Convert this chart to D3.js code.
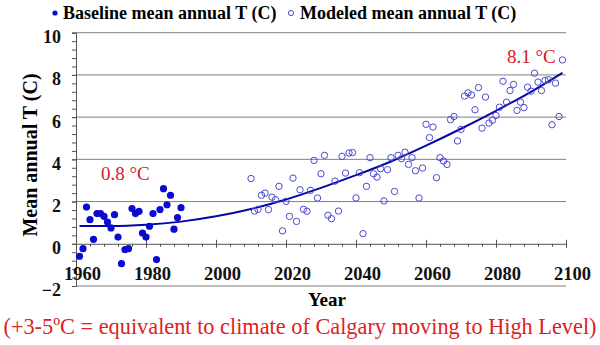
<!DOCTYPE html>
<html>
<head>
<meta charset="utf-8">
<script src="https://cdn.jsdelivr.net/npm/d3@7"></script>
<style>
  body { margin: 0; background: #fff; }
  text { font-family: "Liberation Serif", "Times New Roman", Times, "DejaVu Serif", serif; }
</style>
</head>
<body>
<script>
// baseline observations, 1961-1990
var baseYears = d3.range(1961, 1991);
var baseTemps = [-0.59, -0.23, 1.74, 1.14, 0.21, 1.43, 1.43, 1.30, 1.03, 0.75,
                 1.38, 0.32, -0.94, -0.27, -0.23, 1.67, 1.43, 1.54, 0.51, 0.32,
                 0.83, 1.43, -0.75, 1.62, 2.61, 1.85, 2.30, 0.69, 1.24, 1.71];

// modeled values, 2010-2099
var modelYears = d3.range(2010, 2100);
var modelTemps = [3.09, 1.55, 1.63, 2.30, 2.40, 1.62, 2.21, 2.09, 2.72, 0.61,
                  2.01, 1.30, 3.11, 1.06, 2.56, 1.63, 1.54, 2.53, 3.95, 2.17,
                  3.32, 4.19, 1.35, 1.19, 2.97, 1.55, 4.14, 3.35, 4.30, 4.32,
                  2.17, 3.37, 0.48, 2.72, 4.08, 3.32, 3.16, 3.56, 2.03, 3.51,
                  4.08, 2.48, 4.19, 4.03, 4.34, 3.76, 4.08, 3.46, 2.17, 3.59,
                  5.66, 5.03, 5.53, 3.13, 4.08, 3.92, 3.76, 5.88, 6.03, 4.87,
                  5.42, 7.00, 7.15, 7.05, 6.35, 7.40, 5.48, 6.95, 5.72, 5.85,
                  6.08, 6.47, 7.70, 6.71, 7.26, 7.55, 6.32, 6.71, 6.45, 7.42,
                  7.23, 8.08, 7.66, 7.26, 7.74, 7.77, 5.64, 7.61, 6.03, 8.71];

// trend line
var trendYears = [1961, 1970, 1980, 1990, 2000, 2010, 2020, 2030, 2040, 2050, 2060, 2070, 2080, 2090, 2099];
var trendTemps = [0.84, 0.84, 0.90, 1.05, 1.30, 1.65, 2.10, 2.65, 3.25, 3.90, 4.65, 5.45, 6.30, 7.20, 8.10];

var xTicks = [1960, 1980, 2000, 2020, 2040, 2060, 2080, 2100];
var yTicks = [-2, 0, 2, 4, 6, 8, 10];

var width = 600, height = 345;
var serif = "'Liberation Serif', 'Times New Roman', 'DejaVu Serif', serif";

var x = d3.scaleLinear().domain([1960, 2100]).range([76, 566]);
var y = d3.scaleLinear().domain([-2, 10]).range([286, 32.7]);

var svg = d3.select("body").append("svg")
    .attr("width", width)
    .attr("height", height)
    .attr("font-family", serif);

// gridlines
svg.append("g")
  .selectAll("line")
  .data([2, 4, 6, 8, 10])
  .enter().append("line")
    .attr("x1", x(1960)).attr("x2", x(2100))
    .attr("y1", function(d) { return y(d); })
    .attr("y2", function(d) { return y(d); })
    .attr("stroke", "#808080")
    .attr("stroke-width", 1);

// bottom border of plot area
svg.append("line")
    .attr("x1", x(1960)).attr("x2", x(2100))
    .attr("y1", y(-2)).attr("y2", y(-2))
    .attr("stroke", "#808080");

// y axis with minor ticks
var yMinor = d3.range(-2, 10.01, 0.4).map(function(d) { return Math.round(d * 10) / 10; });
svg.append("g")
    .attr("transform", "translate(" + x(1960) + ",0)")
    .call(d3.axisLeft(y).tickValues(yMinor).tickSize(4).tickFormat(""))
    .call(function(g) { g.select(".domain").remove(); })
    .selectAll("line").attr("stroke", "#555");

var yAxis = svg.append("g")
    .attr("transform", "translate(" + x(1960) + ",0)")
    .call(d3.axisLeft(y).tickValues(yTicks).tickSize(4).tickPadding(11));
yAxis.attr("font-family", serif);
yAxis.select(".domain").attr("stroke", "#555");
yAxis.selectAll("line").attr("stroke", "#555");
yAxis.selectAll("text")
    .attr("dy", "0.55em")
    .style("font-family", serif)
    .style("font-size", "18px")
    .style("font-weight", "bold")
    .attr("fill", "#111");

// x axis sits at y = 0
var xMinor = d3.range(1960, 2101, 4);
svg.append("g")
    .attr("transform", "translate(0," + y(0) + ")")
    .call(d3.axisBottom(x).tickValues(xMinor).tickSize(3).tickFormat(""))
    .call(function(g) { g.select(".domain").remove(); })
    .selectAll("line").attr("stroke", "#555");

var xAxis = svg.append("g")
    .attr("transform", "translate(0," + y(0) + ")")
    .call(d3.axisBottom(x).tickValues(xTicks).tickSize(4).tickPadding(19).tickFormat(d3.format("d")));
xAxis.attr("font-family", serif);
xAxis.select(".domain").attr("stroke", "#555");
xAxis.selectAll(".tick line").attr("y1", -4).attr("stroke", "#555");
xAxis.selectAll("text")
    .attr("dx", "6")
    .style("font-family", serif)
    .style("font-size", "18.5px")
    .style("font-weight", "bold")
    .attr("fill", "#111");

// trend line
var line = d3.line()
    .x(function(d, i) { return x(trendYears[i]); })
    .y(function(d) { return y(d); })
    .curve(d3.curveMonotoneX);
svg.append("path")
    .datum(trendTemps)
    .attr("d", line)
    .attr("fill", "none")
    .attr("stroke", "#0606a8")
    .attr("stroke-width", 2);

// modeled points (open)
svg.append("g")
  .selectAll("circle")
  .data(modelTemps)
  .enter().append("circle")
    .attr("cx", function(d, i) { return x(modelYears[i]); })
    .attr("cy", function(d) { return y(d); })
    .attr("r", 3.2)
    .attr("fill", "none")
    .attr("stroke", "#4a4ad0")
    .attr("stroke-width", 1);

// baseline points (filled)
svg.append("g")
  .selectAll("circle")
  .data(baseTemps)
  .enter().append("circle")
    .attr("cx", function(d, i) { return x(baseYears[i]); })
    .attr("cy", function(d) { return y(d); })
    .attr("r", 3.6)
    .attr("fill", "#0a0ad0");

function label(txt, xx, yy, size, bold, color, anchor) {
  return svg.append("text")
      .attr("x", xx).attr("y", yy)
      .style("font-family", serif)
      .style("font-size", size + "px")
      .style("font-weight", bold ? "bold" : "normal")
      .style("text-anchor", anchor || "start")
      .attr("fill", color || "#000")
      .text(txt);
}

// annotations
label("0.8 °C", 101, 180, 19, false, "#d42020");
label("8.1 °C", 507, 63, 19, false, "#d42020");

// legend
svg.append("circle").attr("cx", 55).attr("cy", 13).attr("r", 2.6).attr("fill", "#0a0ad0");
label("Baseline mean annual T (C)", 63, 19, 18, true);
svg.append("circle").attr("cx", 291).attr("cy", 13).attr("r", 2.6)
    .attr("fill", "none").attr("stroke", "#4a4ad0");
label("Modeled mean annual T (C)", 300, 19, 18, true);

// axis titles
label("Mean annual T (C)", 0, 0, 20, true, "#000", "middle")
    .attr("transform", "translate(37,155) rotate(-90)");
label("Year", 327, 306, 19, true, "#000", "middle");

// footnote
label("(+3-5ºC = equivalent to climate of Calgary moving to High Level)", 300, 334, 22.3, false, "#e02020", "middle");
</script>
</body>
</html>
